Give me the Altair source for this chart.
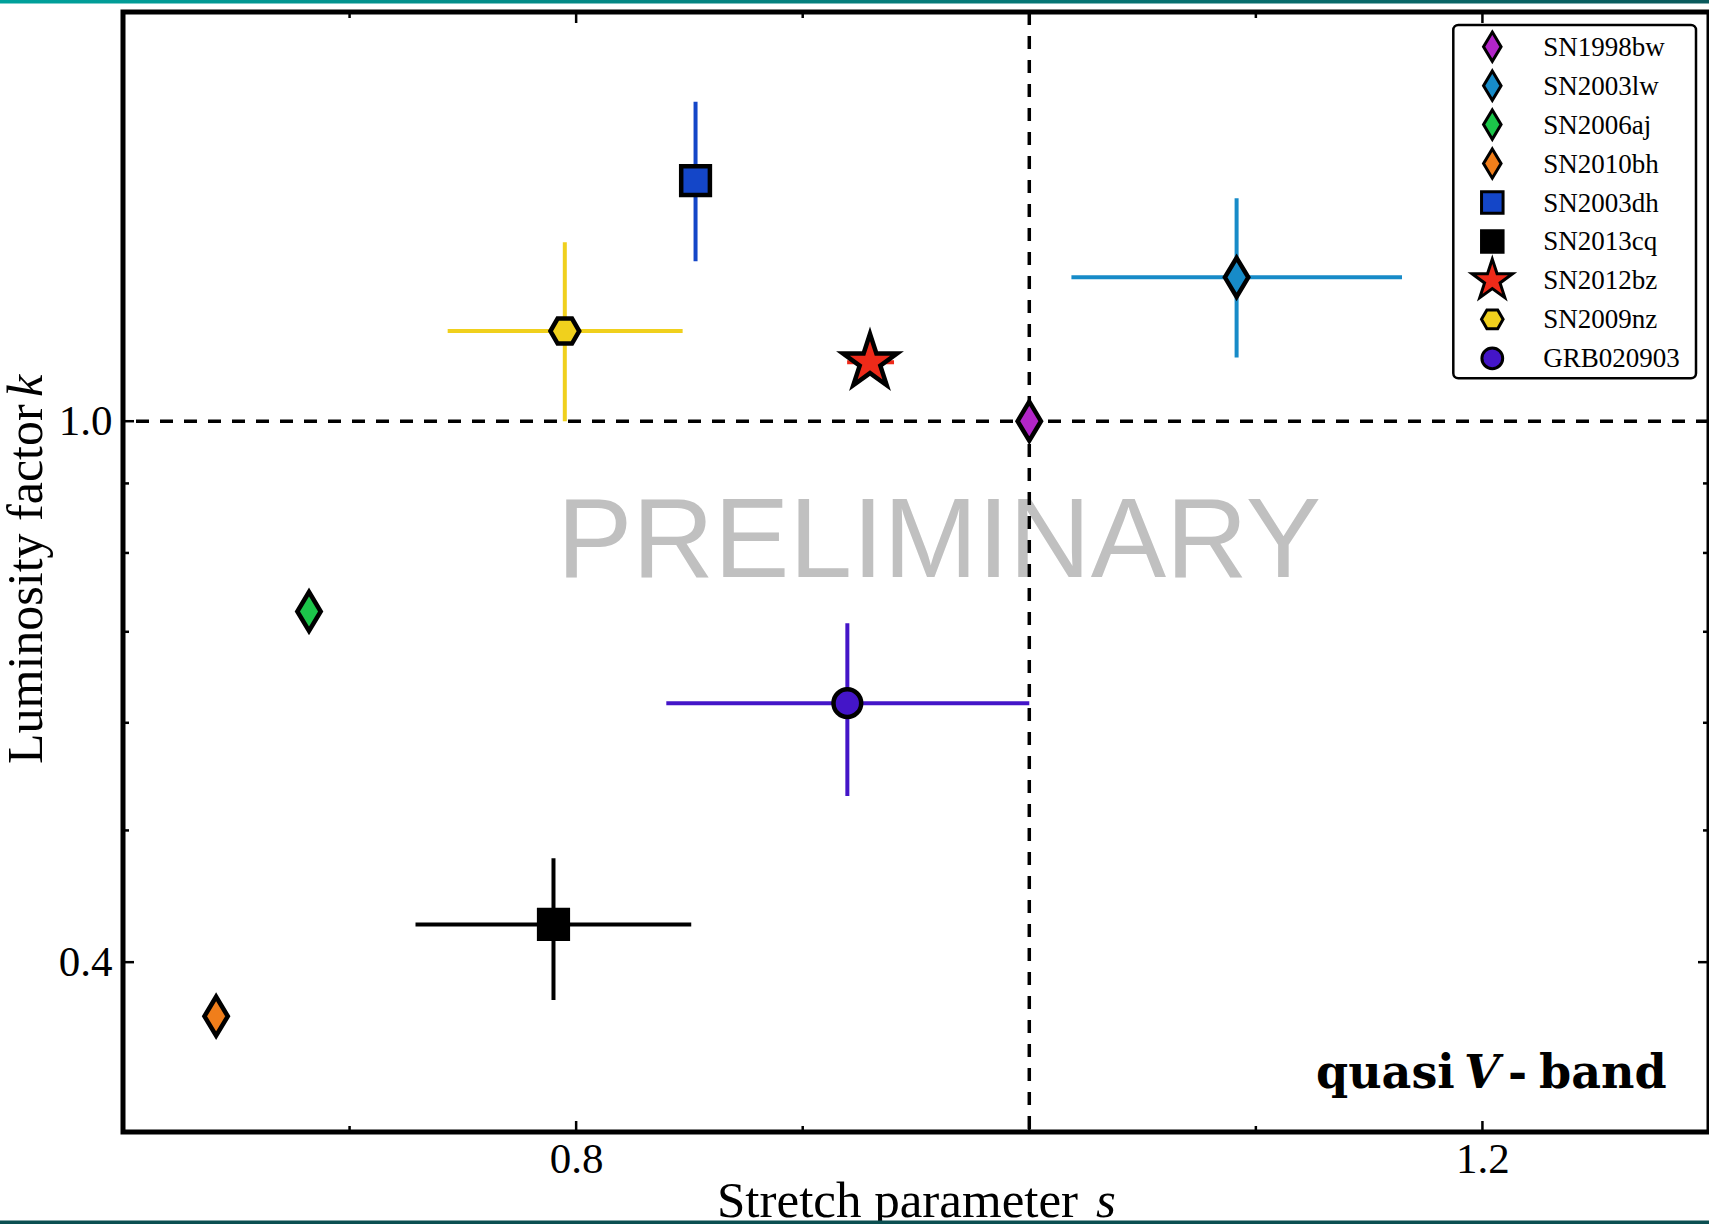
import math
import altair as alt
import pandas as pd

# ---- data -------------------------------------------------------------
names = ["SN1998bw", "SN2003lw", "SN2006aj", "SN2010bh", "SN2003dh",
         "SN2013cq", "SN2012bz", "SN2009nz", "GRB020903"]
stretch = [1.000, 1.0915, 0.6821, 0.6411, 0.8527, 0.7900, 0.9297, 0.7950, 0.9197]
lum = [1.000, 1.276, 0.7245, 0.365, 1.503, 0.4264, 1.105, 1.165, 0.6203]
s_low = [None, 1.0186, None, None, None, 0.7291, 0.9196, 0.7433, 0.8398]
s_high = [None, 1.1645, None, None, None, 0.8508, 0.9403, 0.8470, 1.0000]
k_low = [None, 1.114, None, None, 1.311, 0.3752, None, 1.000, 0.530]
k_high = [None, 1.459, None, None, 1.718, 0.477, None, 1.354, 0.7102]
colors = ["#b225c8", "#178bc8", "#1cc64a", "#f07e1b", "#1446c8",
          "#000000", "#ee2a19", "#f0d01d", "#4415c8"]

x_major = [0.8, 1.2]
x_minor = [0.7, 0.9, 1.0, 1.1]
y_major = [0.4, 1.0]
y_minor = [0.5, 0.6, 0.7, 0.8, 0.9]
reference_s = [1.0]
reference_k = [1.0]


# ---- marker outlines (unit box) ---------------------------------------
def star_path(R, r):
    pts = []
    for i in range(10):
        rad = R if i % 2 == 0 else r
        a = math.radians(-90 + 36 * i)
        pts.append(f"{rad * math.cos(a):.4f},{rad * math.sin(a):.4f}")
    return "M" + "L".join(pts) + "Z"


def hex_path(r):
    pts = []
    for i in range(6):
        a = math.radians(60 * i)
        pts.append(f"{r * math.cos(a):.4f},{r * math.sin(a):.4f}")
    return "M" + "L".join(pts) + "Z"


diamond = "M0,-0.8125L0.4875,0L0,0.8125L-0.4875,0Z"
square = "M-0.598,-0.598L0.598,-0.598L0.598,0.598L-0.598,0.598Z"
circle = "M0.577,0A0.577,0.577,0,1,1,-0.577,0A0.577,0.577,0,1,1,0.577,0Z"
shapes = [diamond, diamond, diamond, diamond, square, square,
          star_path(1.183, 0.452), hex_path(0.6), circle]

df = pd.DataFrame({"name": names, "s": stretch, "k": lum, "col": colors, "shape": shapes,
                   "s_lo": s_low, "s_hi": s_high, "k_lo": k_low, "k_hi": k_high,
                   "row": list(range(len(names)))})
xerr = df.dropna(subset=["s_lo"])
yerr = df.dropna(subset=["k_lo"])

W, H = 1586, 1120
SERIF = "Liberation Serif"

xscale = alt.Scale(domain=[0.6, 1.3], nice=False, zero=False)
yscale = alt.Scale(type="log", domain=[0.3, 2.0], nice=False)

# one axis definition shared by every layer, so the layers merge cleanly
xaxis = alt.Axis(values=x_major, format=".1f", ticks=False, tickSize=0,
                 domain=False, grid=False, labelPadding=6, title=None)
yaxis = alt.Axis(values=y_major, format=".1f", ticks=False, tickSize=0,
                 domain=False, grid=False, labelPadding=11, title=None)


def X(field):
    return alt.X(field, scale=xscale, axis=xaxis)


def Y(field):
    return alt.Y(field, scale=yscale, axis=yaxis)


# ---- layers -----------------------------------------------------------
one = pd.DataFrame({"t": ["PRELIMINARY"]})
watermark = alt.Chart(one).mark_text(
    font="Liberation Sans", fontSize=113, color="#c0c0c0",
    align="center", baseline="alphabetic"
).encode(x=alt.value(816), y=alt.value(564.7), text="t:N")

hline = alt.Chart(pd.DataFrame({"v": reference_k})).mark_rule(
    color="black", strokeWidth=3.5, strokeDash=[13, 11]
).encode(y=Y("v:Q"))
vline = alt.Chart(pd.DataFrame({"v": reference_s})).mark_rule(
    color="black", strokeWidth=3.5, strokeDash=[13, 11]
).encode(x=X("v:Q"))

xbars = alt.Chart(xerr).mark_rule(strokeWidth=4).encode(
    x=X("s_lo:Q"), x2="s_hi:Q", y=Y("k:Q"),
    color=alt.Color("col:N", scale=None))
ybars = alt.Chart(yerr).mark_rule(strokeWidth=4).encode(
    x=X("s:Q"), y=Y("k_lo:Q"), y2="k_hi:Q",
    color=alt.Color("col:N", scale=None))

points = alt.Chart(df).mark_point(
    filled=True, size=2304, stroke="black", strokeWidth=4.5, opacity=1, strokeJoin="miter"
).encode(
    x=X("s:Q"),
    y=Y("k:Q"),
    fill=alt.Fill("col:N", scale=None),
    shape=alt.Shape("shape:N", scale=None),
)


def xticks(vals, length):
    d = pd.DataFrame({"v": vals})
    base = alt.Chart(d).mark_rule(color="black", strokeWidth=2.5)
    bottom = base.encode(x=X("v:Q"), y=alt.value(H), y2=alt.value(H - length))
    top = base.encode(x=X("v:Q"), y=alt.value(0), y2=alt.value(length))
    return [bottom, top]


def yticks(vals, length):
    d = pd.DataFrame({"v": vals})
    base = alt.Chart(d).mark_rule(color="black", strokeWidth=2.5)
    left = base.encode(y=Y("v:Q"), x=alt.value(0), x2=alt.value(length))
    right = base.encode(y=Y("v:Q"), x=alt.value(W), x2=alt.value(W - length))
    return [left, right]


ticks = xticks(x_major, 11) + xticks(x_minor, 6) + yticks(y_major, 11) + yticks(y_minor, 6)

# ---- legend box (upper right) -----------------------------------------
LEG_X0, LEG_X1, LEG_Y0, LEG_Y1 = 1330.3, 1573, 13, 366.3
ROW0, ROW_STEP = 34.7, 38.95
legend_box = alt.Chart(one).mark_rect(
    fill="white", stroke="black", strokeWidth=2.5, cornerRadius=5
).encode(x=alt.value(LEG_X0), x2=alt.value(LEG_X1),
         y=alt.value(LEG_Y0), y2=alt.value(LEG_Y1))
legend_rows = alt.Chart(df).transform_calculate(
    ly=f"{ROW0} + {ROW_STEP} * datum.row")
legend_symbols = legend_rows.mark_point(
    filled=True, size=1296, stroke="black", strokeWidth=3, opacity=1, strokeJoin="miter"
).encode(
    x=alt.value(1369.3),
    y=alt.Y("ly:Q", scale=None, axis=None),
    fill=alt.Fill("col:N", scale=None),
    shape=alt.Shape("shape:N", scale=None),
)
legend_labels = legend_rows.mark_text(
    font=SERIF, fontSize=27, align="left", baseline="middle", color="black", dy=1
).encode(
    x=alt.value(1420.3),
    y=alt.Y("ly:Q", scale=None, axis=None),
    text="name:N",
)


def label(text, x, y, size, font=SERIF, weight="normal", style="normal",
          angle=0, align="left"):
    d = pd.DataFrame({"t": [text]})
    return alt.Chart(d).mark_text(
        font=font, fontSize=size, fontWeight=weight, fontStyle=style, angle=angle,
        align=align, baseline="alphabetic", color="black"
    ).encode(x=alt.value(x), y=alt.value(y), text="t:N")


titles = [
    label("Stretch parameter", 594, 1205, 51),
    label("s", 973, 1205, 51, style="italic"),
    label("Luminosity factor", -81, 752, 50, angle=270),
    label("k", -81, 385, 50, style="italic", angle=270),
    label("quasi", 1193, 1076.3, 46, font="DejaVu Serif", weight="bold"),
    label("V", 1341, 1076.3, 46, font="DejaVu Serif", weight="bold", style="italic"),
    label("-", 1385, 1076.3, 46, font="DejaVu Serif", weight="bold"),
    label("band", 1543.7, 1076.3, 46, font="DejaVu Serif", weight="bold", align="right"),
]

top_band = alt.Chart(one).mark_rect(
    color=alt.Gradient(
        gradient="linear",
        stops=[alt.GradientStop(color="#00a19b", offset=0),
               alt.GradientStop(color="#0a5a5c", offset=1)],
        x1=0, x2=1, y1=0, y2=0,
    )
).encode(x=alt.value(-123), x2=alt.value(W), y=alt.value(-12), y2=alt.value(-8.5))
bottom_band = alt.Chart(one).mark_rect(color="#0b4f51").encode(
    x=alt.value(-123), x2=alt.value(W), y=alt.value(1208.5), y2=alt.value(1212))

chart = alt.layer(
    watermark, hline, vline, xbars, ybars, *ticks, points,
    legend_box, legend_symbols, legend_labels,
    *titles, top_band, bottom_band
).properties(
    width=W, height=H,
    padding={"left": 123, "top": 12, "right": 0, "bottom": 92},
    autosize=alt.AutoSizeParams(type="none"),
    background="white",
).configure_view(
    stroke="black", strokeWidth=5
).configure_axis(
    labelFont=SERIF, labelFontSize=43, labelColor="black"
)

chart.save("out.html", embed_options={"renderer": "svg", "actions": False})
